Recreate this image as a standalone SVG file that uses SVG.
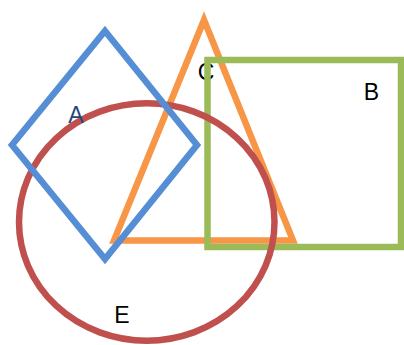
<svg xmlns="http://www.w3.org/2000/svg" width="404" height="345" viewBox="0 0 404 345">
<style>
.s{fill:none;stroke-width:6.5;stroke-linejoin:miter}
.t{font-family:"Liberation Sans",Arial,sans-serif;font-size:23px;text-anchor:middle;fill:#000}
</style>
<rect width="404" height="345" fill="#fff"/>
<g id="C">
<polygon class="s" points="204,20 114,240.5 293,240.5" stroke="#F79646"/>
<text class="t" x="206" y="80">C</text>
</g>
<g id="B">
<rect class="s" x="207.5" y="60" width="193.5" height="187" stroke="#9BBB59"/>
<text class="t" x="371.5" y="100">B</text>
</g>
<g id="E">
<ellipse class="s" cx="146.75" cy="222" rx="127.75" ry="118.75" stroke="#C0504D"/>
<text class="t" x="122" y="323">E</text>
</g>
<g id="A">
<polygon class="s" points="105,31 197,145 105,259 12,145" stroke="#558ED5"/>
<text class="t" x="76" y="123" style="fill:#1F497D">A</text>
</g>
<g id="connectors"/>
</svg>
